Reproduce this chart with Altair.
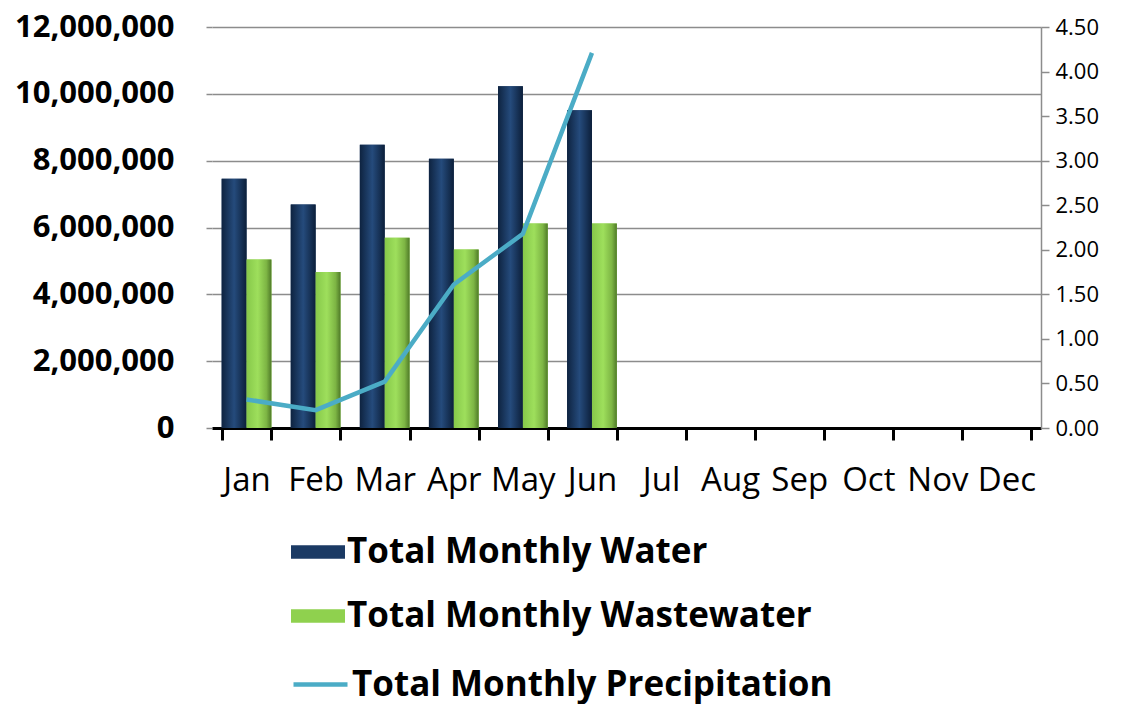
import altair as alt
import pandas as pd

months = ["Jan", "Feb", "Mar", "Apr", "May", "Jun", "Jul", "Aug", "Sep", "Oct", "Nov", "Dec"]
water = [7460000, 6690000, 8480000, 8060000, 10230000, 9510000]
wastewater = [5040000, 4670000, 5690000, 5340000, 6120000, 6120000]
precip = [0.32, 0.20, 0.52, 1.61, 2.18, 4.21]
series_bars = ["Total Monthly Water", "Total Monthly Wastewater"]
series_line = "Total Monthly Precipitation"
left_ticks = [0, 2000000, 4000000, 6000000, 8000000, 10000000, 12000000]
right_ticks = [0, 0.5, 1.0, 1.5, 2.0, 2.5, 3.0, 3.5, 4.0, 4.5]

FONT = "Open Sans"

rows = []
for i, m in enumerate(months[:len(water)]):
    rows.append({"month": m, "series": series_bars[0], "value": water[i]})
    rows.append({"month": m, "series": series_bars[1], "value": wastewater[i]})
bars_df = pd.DataFrame(rows)
line_df = pd.DataFrame({"month": months[:len(precip)], "precip": precip,
                        "series": [series_line] * len(precip)})

xscale = alt.Scale(domain=months, paddingInner=0.28, paddingOuter=0.14)
xaxis = alt.Axis(title=None, labelFontSize=33, labelFont=FONT, labelColor="black",
                 domainColor="black", domainWidth=3, tickColor="black", tickWidth=3,
                 tickSize=12, tickBand="extent", labelPadding=24, labelAngle=0)
yscale = alt.Scale(domain=[0, 12000000])
offs = alt.XOffset("series:N", sort=series_bars, scale=alt.Scale(domain=series_bars))

base = alt.Chart(bars_df)
bars = base.mark_bar().encode(
    x=alt.X("month:N", scale=xscale, axis=xaxis, sort=months),
    xOffset=offs,
    y=alt.Y("value:Q", scale=yscale, stack=None,
            axis=alt.Axis(title=None, values=left_ticks,
                          labelExpr="format(datum.value, ',')", labelFontSize=31,
                          labelFont=FONT, labelFontWeight="bold", labelColor="black",
                          domain=False, ticks=True, tickColor="#8c8c8c", tickSize=6,
                          tickWidth=1.5, labelPadding=32,
                          grid=True, gridColor="#8c8c8c", gridWidth=1.5)),
    color=alt.Color("series:N", sort=series_bars,
                    scale=alt.Scale(domain=series_bars, range=["#1b3a64", "#8fd14e"]),
                    legend=alt.Legend(title=None, orient="none", legendX=79, legendY=498,
                                      direction="vertical",
                                      symbolType="M-1,-0.25H1V0.25H-1Z", symbolSize=2916,
                                      symbolStrokeWidth=0, symbolOpacity=1,
                                      labelFont=FONT, labelFontSize=35, labelFontWeight="bold",
                                      labelColor="black", labelOffset=2, rowPadding=19,
                                      labelLimit=800)),
)

grad_water = {"x1": 0, "y1": 0, "x2": 1, "y2": 0, "gradient": "linear",
              "stops": [{"offset": 0, "color": "#0e2340"},
                        {"offset": 0.5, "color": "#254b7c"},
                        {"offset": 1, "color": "#0c1f3a"}]}
grad_ww = {"x1": 0, "y1": 0, "x2": 1, "y2": 0, "gradient": "linear",
           "stops": [{"offset": 0, "color": "#86c84a"},
                     {"offset": 0.45, "color": "#9edf5c"},
                     {"offset": 0.8, "color": "#7db544"},
                     {"offset": 1, "color": "#4f7a28"}]}

shade_w = base.transform_filter(alt.datum.series == series_bars[0]).mark_bar(
    fill=grad_water).encode(
    x=alt.X("month:N", scale=xscale, sort=months), xOffset=offs,
    y=alt.Y("value:Q", scale=yscale, stack=None))
shade_ww = base.transform_filter(alt.datum.series == series_bars[1]).mark_bar(
    fill=grad_ww).encode(
    x=alt.X("month:N", scale=xscale, sort=months), xOffset=offs,
    y=alt.Y("value:Q", scale=yscale, stack=None))

line = alt.Chart(line_df).mark_line(strokeWidth=4.5).encode(
    x=alt.X("month:N", scale=xscale, sort=months),
    y=alt.Y("precip:Q", scale=alt.Scale(domain=[0, 4.5]),
            axis=alt.Axis(title=None, orient="right", values=right_ticks, format=".2f",
                          labelFontSize=22, labelFont=FONT, labelColor="black",
                          domainColor="#8c8c8c", domainWidth=1.5, tickColor="#8c8c8c",
                          tickWidth=1.5, tickSize=8, labelPadding=6, grid=False)),
    stroke=alt.Stroke("series:N", scale=alt.Scale(domain=[series_line], range=["#4bacc6"]),
                      legend=alt.Legend(title=None, orient="none", legendX=79, legendY=628,
                                        symbolType="stroke", symbolSize=2916,
                                        symbolStrokeWidth=4.5,
                                        labelFont=FONT, labelFontSize=35, labelFontWeight="bold",
                                        labelColor="black", labelOffset=2, labelLimit=800)),
)

bars_layer = alt.layer(bars, shade_w, shade_ww)
chart = alt.layer(bars_layer, line).resolve_scale(y="independent").properties(
    width=829, height=401, padding={"left": 6, "top": 3, "right": 5, "bottom": 4}
).configure_view(stroke=None)

chart.save("out.html", embed_options={"renderer": "svg", "actions": False})
